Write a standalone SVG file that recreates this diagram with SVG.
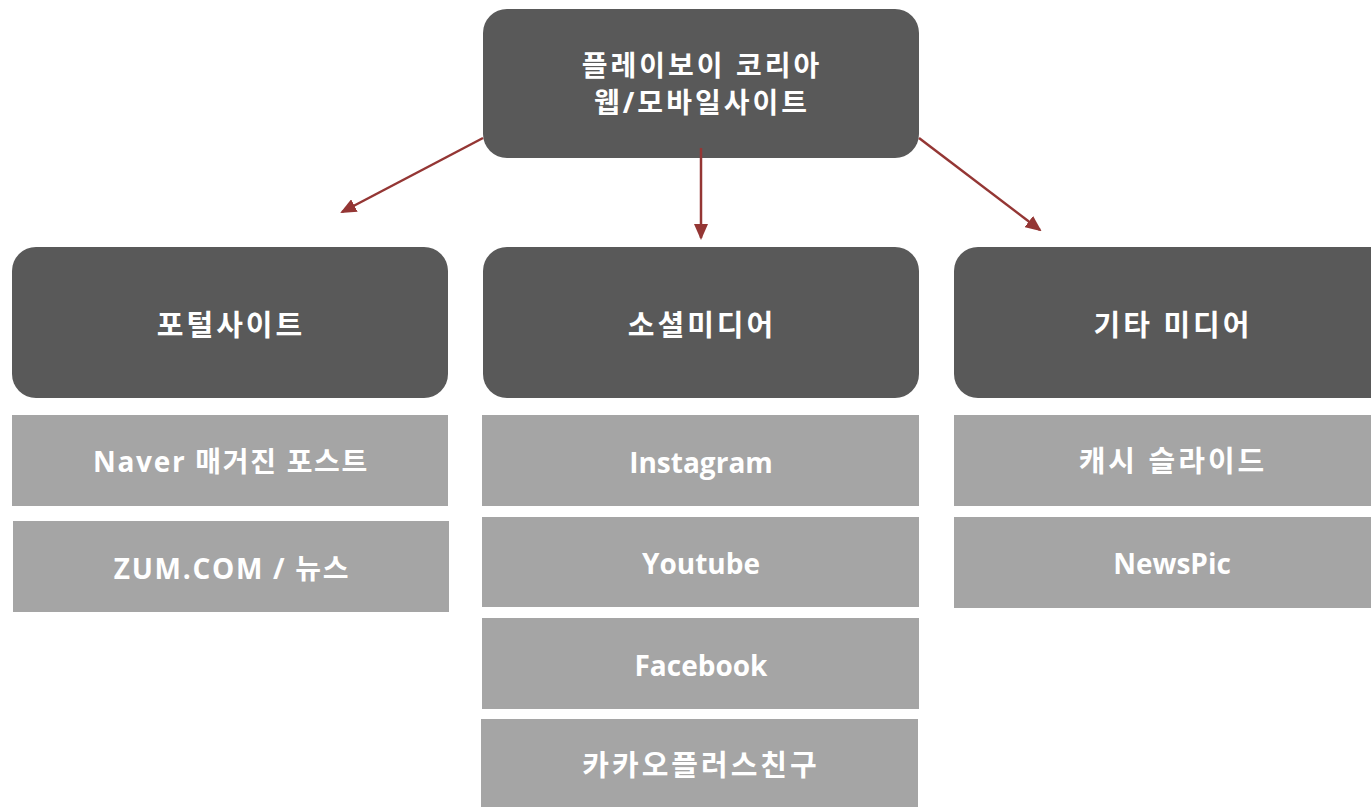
<svg xmlns="http://www.w3.org/2000/svg" width="1371" height="807" viewBox="0 0 1371 807">
<style>
.dark{fill:#595959;}
.light{fill:#a5a5a5;}
text{font-family:"Open Sans","Noto Sans CJK KR",sans-serif;font-weight:bold;fill:#ffffff;font-size:28px;text-anchor:middle;dominant-baseline:central;}
.ko{font-size:29px;letter-spacing:3px;}
.mix{letter-spacing:1.7px;}
.big{font-size:28px;letter-spacing:3px;}
.conn{stroke:#943634;stroke-width:2.5;fill:none;marker-end:url(#ah);}
</style>
<defs>
<marker id="ah" markerWidth="16" markerHeight="14" refX="14" refY="7" orient="auto" markerUnits="userSpaceOnUse" viewBox="0 0 16 14">
<path d="M0,0 L16,7 L0,14 z" fill="#943634"/>
</marker>
</defs>
<rect width="1371" height="807" fill="#ffffff"/>
<g id="root"><rect class="dark" x="483" y="9" width="436" height="149" rx="24"/><text class="big" x="702" y="65">플레이보이 코리아</text><text class="big" x="702" y="102">웹/모바일사이트</text></g>
<g id="portal"><rect class="dark" x="12" y="247" width="436" height="151" rx="24"/><text class="ko" x="231" y="324">포털사이트</text></g>
<g id="social"><rect class="dark" x="483" y="247" width="436" height="151" rx="24"/><text class="ko" x="702" y="324">소셜미디어</text></g>
<g id="other"><rect class="dark" x="954" y="247" width="440" height="151" rx="24"/><text class="ko" x="1173" y="324">기타 미디어</text></g>
<g id="naver"><rect class="light" x="12" y="415" width="436" height="91"/><text class="mix" x="231" y="461">Naver 매거진 포스트</text></g>
<g id="zum"><rect class="light" x="13" y="521" width="436" height="91"/><text class="mix" x="232" y="568">ZUM.COM / 뉴스</text></g>
<g id="instagram"><rect class="light" x="482" y="415" width="437" height="91"/><text x="701" y="462">Instagram</text></g>
<g id="youtube"><rect class="light" x="482" y="517" width="437" height="90"/><text x="701" y="563">Youtube</text></g>
<g id="facebook"><rect class="light" x="482" y="618" width="437" height="91"/><text x="701" y="665">Facebook</text></g>
<g id="kakao"><rect class="light" x="481" y="719" width="437" height="88"/><text class="ko" x="701" y="764">카카오플러스친구</text></g>
<g id="cash"><rect class="light" x="954" y="415" width="417" height="91"/><text class="ko" x="1173" y="460">캐시 슬라이드</text></g>
<g id="newspic"><rect class="light" x="954" y="517" width="417" height="91"/><text x="1172" y="563">NewsPic</text></g>
<g id="connectors">
<line class="conn" x1="483" y1="138" x2="342" y2="212"/>
<line class="conn" x1="701" y1="148" x2="701" y2="238"/>
<line class="conn" x1="919" y1="138" x2="1040" y2="230"/>
</g>
</svg>
